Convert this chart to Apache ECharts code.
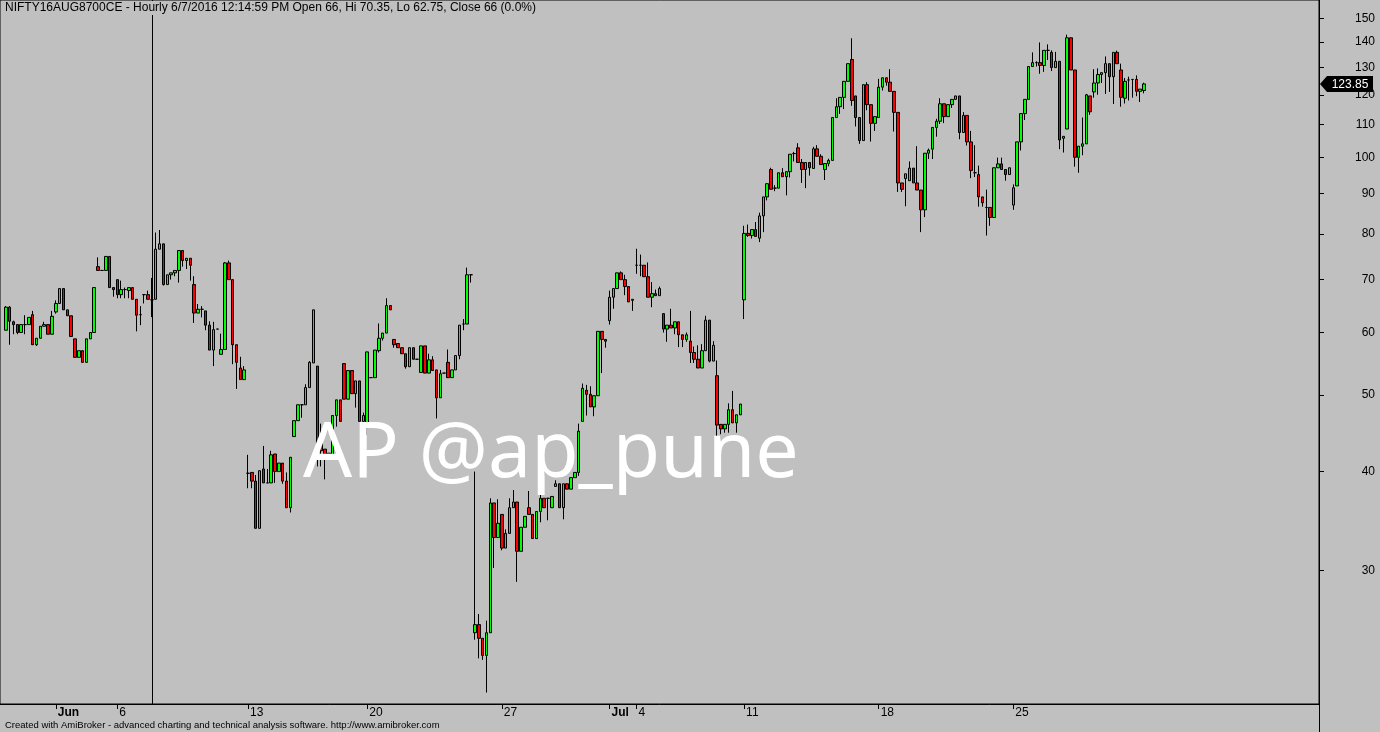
<!DOCTYPE html>
<html><head><meta charset="utf-8">
<script src="https://cdn.jsdelivr.net/npm/echarts@6/dist/echarts.min.js"></script>
<style>html,body{margin:0;padding:0;background:#c0c0c0;overflow:hidden}#chart{width:1380px;height:732px}</style>
</head><body><div id="chart"></div>
<script>
// ---- data ----
const sessions = [
 ['2016-05-30',6],['2016-05-31',7],['2016-06-01',6],['2016-06-02',5],['2016-06-03',5],
 ['2016-06-06',7],['2016-06-07',7],['2016-06-08',7],['2016-06-09',7],['2016-06-10',6],
 ['2016-06-13',7],['2016-06-14',6],['2016-06-15',6],['2016-06-16',6],['2016-06-17',6],
 ['2016-06-20',7],['2016-06-21',7],['2016-06-22',7],['2016-06-23',7],['2016-06-24',7],
 ['2016-06-27',7],['2016-06-28',7],['2016-06-29',7],['2016-06-30',7],['2016-07-01',7],
 ['2016-07-04',7],['2016-07-05',7],['2016-07-07',7],['2016-07-08',7],
 ['2016-07-11',7],['2016-07-12',7],['2016-07-13',7],['2016-07-14',7],['2016-07-15',7],
 ['2016-07-18',7],['2016-07-19',7],['2016-07-20',7],['2016-07-21',7],['2016-07-22',7],
 ['2016-07-25',7],['2016-07-26',7],['2016-07-27',7],['2016-07-28',7],['2016-07-29',7]
];
const barTimes = ['10:14:59','11:14:59','12:14:59','13:14:59','14:14:59','15:14:59','15:29:59'];

const opens = [
 60.4,64.6,61.9,61.4,60.0,61.4,61.4,63.2,57.9,59.0,
 61.1,61.4,59.7,63.7,65.3,68.2,64.1,63.0,58.9,55.8,
 56.9,55.0,58.9,60.0,72.7,71.9,71.9,74.9,68.4,70.0,
 67.0,68.0,67.8,68.4,66.1,63.2,67.0,67.0,66,66.1,
 76.5,77.7,69.0,71.0,71.4,71.9,76.2,74.0,74.5,69.0,
 63.5,64.2,63.9,61.3,57.0,60.6,56.3,57.1,73.5,70.0,
 57.9,54.1,52.3,39.8,39.9,38.9,33.9,40.3,38.7,38.7,
 42.1,40.0,41.0,38.9,36.0,44.3,46.4,48.6,48.6,51.1,
 54.9,54.4,43.5,42.7,42.1,42.0,47.1,49.3,54.8,49.4,
 53.7,50.2,52.1,46.3,45.8,52.6,52.6,56.9,59.0,59.9,
 64.9,58.8,58.1,57.4,56.4,54.3,57.4,55.5,53.4,57.7,
 53.3,55.4,53.8,49.6,53.3,55.0,52.6,53.8,56.1,61.5,
 61.5,71.0,25.0,25.6,24.6,23.4,25.0,36.5,33.0,35.3,
 32.0,33.4,36.0,36.6,31.7,34.0,36.0,35.3,32.9,35.6,
 37.0,37.0,36.0,38.3,38.6,36.0,38.6,38.0,39.3,39.9,
 46.3,50.7,50.1,48.3,49.9,60.2,58.8,62.1,66.5,68.2,
 71.4,70.0,68.6,65.9,73.0,73.0,73.0,70.6,66.5,67.2,
 66.8,63.4,60.6,61.3,60.8,61.9,59.6,58.8,58.5,56.6,
 55.5,54.1,56.9,62.2,55.2,52.9,45.9,45.3,45.9,47.9,
 46.1,47.2,66.0,80.1,79.6,81.0,79.0,84.3,89.1,96.5,
 91.4,91.4,95.6,94.5,95.9,101.1,102.8,98.5,96.5,98.5,
 96.8,102.5,100.3,96.5,98.2,99.1,112.3,115.9,119.1,124.8,
 133.0,119.6,112.3,105.0,123.6,116.6,110.4,112.3,122.7,126.1,
 124.5,121.2,114.0,92.8,94.0,93.4,96.9,92.8,90.9,85.8,
 101.2,102.4,109.1,111.1,116.9,112.6,116.6,118.4,119.6,107.5,
 113.0,104.6,95.6,95.1,89.1,86.4,86.4,83.9,97.0,98.1,
 96.5,95.1,87.0,92.0,104.6,113.6,118.4,130.3,131.8,131.8,
 130.7,136.6,135.8,129.9,132.3,105.7,108.6,141.7,129.0,100.0,
 103.3,104.0,119.6,121.0,124.2,127.3,128.0,131.4,126.5,135.8,
 129.0,118.8,125.3,125.5,125.5,121.2,121.5
];
const highs = [
 64.8,64.8,62.1,61.4,61.4,63.1,62.7,63.9,59.0,61.1,
 61.9,61.4,63.9,65.9,68.2,68.2,64.1,63.0,58.9,56.9,
 56.9,58.9,60.0,68.4,74.7,71.9,74.9,74.9,68.4,70.0,
 69.8,68.4,68.4,68.4,66.1,64.8,67.0,67.8,70.35,80.3,
 80.9,77.7,71.0,71.4,71.9,76.2,76.2,74.5,74.5,70.7,
 65.2,64.8,63.9,62.0,61.9,60.6,59.8,73.7,74.0,70.0,
 57.9,55.9,54.4,42.0,39.9,39.6,40.1,43.1,40.3,42.5,
 42.1,41.0,41.0,39.9,41.7,46.4,48.6,48.6,51.6,55.2,
 64.1,54.4,46.0,42.7,42.2,47.1,49.3,49.3,54.8,53.7,
 53.7,52.1,52.1,47.5,56.7,52.6,57.0,61.6,59.9,66.3,
 64.9,58.8,58.1,57.4,56.4,57.4,57.4,55.5,57.7,57.7,
 56.4,56.0,53.8,53.8,53.3,57.1,53.8,56.1,61.3,62.4,
 72.5,71.0,40.0,26.4,24.6,25.9,37.0,36.5,36.9,35.3,
 33.8,37.0,37.9,36.6,34.0,35.1,37.8,35.3,35.6,37.4,
 37.0,37.0,37.2,39.0,38.6,38.6,38.6,39.3,39.9,46.0,
 51.7,51.5,51.3,49.9,60.2,60.2,58.8,67.8,68.2,71.4,
 71.7,71.0,68.6,66.1,76.6,75.3,73.0,73.6,69.5,68.0,
 68.6,63.4,61.3,64.3,61.9,61.9,59.6,60.0,63.9,57.6,
 57.8,58.0,63.0,62.2,58.5,55.3,45.9,45.9,48.8,50.6,
 47.2,48.7,81.9,82.2,81.0,82.8,85.1,89.1,92.6,97.0,
 92.2,95.6,96.9,95.9,100.9,101.6,104.2,99.5,98.5,98.5,
 103.1,103.6,100.9,98.2,99.6,112.3,118.8,119.1,124.8,131.4,
 141.5,119.6,112.3,123.6,124.5,116.6,112.6,125.7,126.1,126.1,
 129.3,121.2,114.0,92.8,95.3,98.8,96.9,103.3,90.9,101.2,
 102.6,109.1,111.9,118.8,116.9,116.6,118.4,119.6,119.6,114.1,
 113.0,108.0,103.6,97.6,89.1,91.0,86.4,97.0,99.9,99.9,
 96.5,97.0,92.4,104.6,113.6,118.4,130.3,135.8,132.3,139.8,
 136.6,139.0,136.6,136.0,132.3,106.3,143.0,141.7,129.0,103.3,
 112.3,120.3,119.6,129.3,129.6,128.0,134.2,131.4,135.8,136.5,
 131.4,126.0,126.5,125.5,127.0,122.0,124.3
];
const lows = [
 60.4,57.9,59.7,59.7,60.0,59.7,61.4,57.9,57.7,59.0,
 61.1,59.7,59.7,63.4,65.3,64.1,63.0,59.3,55.8,55.8,
 55.0,55.0,58.9,60.0,71.9,71.9,71.9,68.4,66.6,66.3,
 66.3,66.3,66.3,66.1,60.2,61.3,65.3,66.1,62.75,66.1,
 76.5,68.8,69.0,70.0,70.7,69.4,72.7,72.2,69.8,61.7,
 63.5,62.7,60.4,57.0,54.4,60.6,56.3,57.1,70.0,54.7,
 50.9,52.3,52.3,38.1,38.1,33.9,33.9,38.7,38.7,38.7,
 38.7,40.0,38.6,36.0,35.5,44.3,46.4,46.8,48.6,51.1,
 54.9,40.6,40.6,39.1,42.0,42.0,45.6,46.3,49.4,49.4,
 50.2,48.2,46.3,46.3,44.5,52.6,52.6,56.6,58.6,59.9,
 64.1,57.4,57.4,56.4,54.0,54.3,55.5,55.5,53.4,53.3,
 53.3,53.7,46.7,49.6,53.3,52.6,52.6,53.8,55.5,60.4,
 61.5,69.4,24.5,23.2,23.1,21.0,25.0,30.2,33.0,31.8,
 32.0,33.4,36.0,29.0,31.7,34.0,35.3,32.9,32.9,34.5,
 36.0,34.7,36.0,38.3,36.0,34.8,38.0,38.0,39.3,39.5,
 46.3,47.1,48.3,47.0,49.9,53.3,57.4,61.4,64.3,68.2,
 70.0,66.9,65.6,63.9,71.2,70.7,70.6,66.5,64.6,66.8,
 66.8,60.0,58.4,60.8,59.7,57.5,57.5,58.4,54.9,54.9,
 54.1,54.1,56.9,55.0,55.2,44.2,44.6,44.8,44.8,46.1,
 44.8,47.2,62.4,79.3,78.9,79.4,78.1,80.4,88.2,91.1,
 90.6,91.4,94.5,89.5,94.3,98.8,98.5,92.8,91.4,94.8,
 96.8,100.3,97.9,93.6,97.4,99.1,112.3,113.5,115.1,124.8,
 116.2,109.4,104.0,105.0,114.7,104.7,108.0,112.3,121.5,123.2,
 121.2,107.8,90.4,90.4,86.7,93.4,92.8,90.9,80.4,84.0,
 99.5,99.5,106.2,110.2,110.5,112.6,115.5,118.4,105.4,107.5,
 103.5,94.1,94.4,86.6,86.6,79.6,81.9,83.9,97.0,96.5,
 93.4,95.1,85.8,92.0,102.0,111.5,118.4,130.3,130.3,127.6,
 128.3,132.8,128.6,129.9,102.4,101.4,108.6,129.0,97.3,95.6,
 100.6,104.0,113.2,119.0,120.0,124.2,120.3,121.0,116.8,131.4,
 115.9,117.0,118.0,119.0,119.5,117.5,120.5
];
const closes = [
 64.6,62.0,61.4,60.0,61.4,61.4,62.7,57.9,59.0,61.1,
 61.4,59.7,62.9,65.3,68.2,64.1,63.0,59.3,55.8,56.9,
 55.0,58.9,60.0,68.4,71.9,71.9,74.9,68.4,68.0,67.0,
 68.0,68.0,68.4,66.1,63.1,63.2,67.0,66.1,66,76.5,
 77.7,69.0,71.0,71.4,71.9,76.2,74.0,74.5,73.0,63.5,
 64.2,64.2,61.3,57.0,60.5,60.6,57.1,73.5,70.0,57.9,
 55.0,52.3,53.8,39.8,38.9,33.9,40.1,38.7,38.7,42.0,
 40.0,41.0,38.9,36.0,41.7,46.4,48.6,48.6,51.1,55.0,
 64.1,43.0,42.5,42.1,42.2,47.1,49.3,46.3,49.4,53.7,
 50.2,52.1,46.3,47.1,56.7,52.6,57.0,59.0,59.9,64.9,
 64.1,57.9,57.4,56.4,54.3,57.4,55.5,55.5,57.7,53.3,
 55.4,53.7,49.6,53.2,53.3,52.6,53.8,56.1,61.3,61.5,
 71.0,71.0,25.6,24.6,23.4,25.0,36.5,33.0,34.4,32.0,
 33.4,36.0,36.6,31.7,34.0,35.1,35.3,32.9,35.6,37.0,
 36.0,37.0,37.2,38.6,36.0,38.6,38.0,39.3,39.9,45.0,
 51.0,50.1,48.3,49.9,60.2,58.8,58.5,66.5,68.2,71.4,
 70.0,68.6,65.6,66.1,73.0,73.0,70.6,66.5,67.2,66.8,
 68.2,60.6,61.3,60.8,61.9,59.6,58.8,59.6,56.6,55.5,
 54.1,56.9,62.2,55.2,57.8,45.8,45.3,45.9,47.9,46.1,
 47.2,48.7,80.1,79.6,81.0,79.4,84.3,89.1,92.6,91.1,
 91.4,95.6,94.5,95.9,100.9,101.1,98.5,96.5,98.5,97.0,
 102.5,100.3,97.9,98.2,99.1,112.3,115.9,119.1,124.8,131.4,
 118.0,112.3,105.0,123.6,116.6,110.4,112.6,122.7,126.1,124.5,
 121.2,114.0,92.8,91.1,95.3,96.9,92.8,90.9,85.8,101.2,
 102.1,109.1,111.1,116.9,112.6,116.6,118.4,119.6,107.5,113.0,
 104.6,96.2,95.6,89.1,87.6,86.4,83.9,97.0,98.1,96.5,
 95.1,97.0,91.5,104.6,113.6,118.4,130.3,131.8,131.8,130.7,
 136.6,136.6,129.9,132.3,105.2,106.3,141.7,129.0,100.0,103.3,
 104.0,120.0,114.2,124.2,127.3,128.0,131.4,126.5,135.8,131.4,
 119.1,124.8,125.3,125.5,121.2,122.0,123.85
];
const tickDays  = ['2016-06-01','2016-06-06','2016-06-13','2016-06-20','2016-06-27','2016-07-01','2016-07-04','2016-07-11','2016-07-18','2016-07-25'];
const tickTexts = ['Jun','6','13','20','27','Jul','4','11','18','25'];
const monthLabels = ['Jun','Jul'];
const yTickValues = [30,40,50,60,70,80,90,100,110,120,130,140,150];
const yMin = 20.31, yMax = 158.2;
const cursorBar = '2016-06-07 12:14:59';
const titleText = 'NIFTY16AUG8700CE - Hourly 6/7/2016 12:14:59 PM Open 66, Hi 70.35, Lo 62.75, Close 66 (0.0%)';
const creditText = 'Created with AmiBroker - advanced charting and technical analysis software. http://www.amibroker.com';
const watermarkText = 'AP @ap_pune';
const LEAD_PAD = 1, TRAIL_PAD = 45;

// ---- build categories ----
const barNames = [];
const firstBarLabel = {};
sessions.forEach(([d, n]) => {
  for (let k = 0; k < n; k++) {
    const name = d + ' ' + barTimes[k];
    if (k === 0) { const ti = tickDays.indexOf(d); if (ti >= 0) firstBarLabel[name] = tickTexts[ti]; }
    barNames.push(name);
  }
});
const categories = [];
for (let i = 0; i < LEAD_PAD; i++) categories.push('lead' + i);
barNames.forEach(n => categories.push(n));
for (let i = 0; i < TRAIL_PAD; i++) categories.push('trail' + i);

const lg = v => Math.log10(v);
const candleData = opens.map((o, i) => [i + LEAD_PAD, lg(o), lg(closes[i]), lg(lows[i]), lg(highs[i])]);

const FONT = '"Liberation Sans", Arial, sans-serif';
const GRID = {left: 0, top: 0, right: 61, bottom: 28};
const showTick = (idx, name) => firstBarLabel[name] !== undefined;

const chart = echarts.init(document.getElementById('chart'), null, {renderer: 'canvas'});
chart.setOption({
  animation: false,
  backgroundColor: '#c0c0c0',
  title: {
    text: titleText, left: 3, top: 1, padding: [1, 2, 1, 2],
    backgroundColor: '#c0c0c0',
    textStyle: {fontFamily: FONT, fontSize: 12, fontWeight: 'normal', color: '#000'}
  },
  grid: Object.assign({show: true, borderColor: '#000', borderWidth: 1, backgroundColor: '#c0c0c0', containLabel: false}, GRID),
  xAxis: {
    type: 'category', data: categories, boundaryGap: true,
    axisLine: {show: true, lineStyle: {color: '#000', width: 1}},
    axisTick: {show: true, alignWithLabel: true, interval: showTick, length: 5, lineStyle: {color: '#000'}},
    axisLabel: {
      interval: showTick, align: 'left', margin: 3, padding: [0, 0, 0, 2],
      fontFamily: FONT, fontSize: 12, color: '#000',
      formatter: (name) => { const t = firstBarLabel[name]; if (t === undefined) return ''; return monthLabels.includes(t) ? '{m|' + t + '}' : t; },
      rich: {m: {fontFamily: FONT, fontSize: 12, fontWeight: 'bold', color: '#000'}}
    },
    splitLine: {show: false}
  },
  yAxis: {
    type: 'value', position: 'right', min: lg(yMin), max: lg(yMax),
    axisLine: {show: true, lineStyle: {color: '#000', width: 1}},
    axisTick: {show: true, length: 5, customValues: yTickValues.map(lg), lineStyle: {color: '#000'}},
    axisLabel: {
      customValues: yTickValues.map(lg), align: 'right', margin: 56,
      fontFamily: FONT, fontSize: 12, color: '#000',
      formatter: v => String(Math.round(Math.pow(10, v)))
    },
    splitLine: {show: false}
  },
  series: [{
    type: 'candlestick', data: candleData, encode: {x: 0, y: [1, 2, 3, 4]},
    barWidth: 3,
    itemStyle: {color: '#00ff00', color0: '#ff0000', borderColor: '#000', borderColor0: '#000', borderWidth: 1},
    markLine: {
      silent: true, symbol: 'none', animation: false,
      label: {show: false},
      lineStyle: {color: '#000', width: 1, type: 'solid'},
      data: [{xAxis: cursorBar}]
    }
  }]
});

// price tag and decorations placed through the chart's own scale
const lastClose = closes[closes.length - 1];
const py = chart.convertToPixel({yAxisIndex: 0}, lg(lastClose));
const axX = chart.getWidth() - GRID.right;
const axBottom = chart.getHeight() - GRID.bottom;
chart.setOption({
  graphic: [
    {id: 'wm', type: 'text', z: 100, style: {text: watermarkText, x: 303, y: 455, fill: '#ffffff', font: '77px "Noto Sans", sans-serif', verticalAlign: 'middle', align: 'left'}},
    {id: 'credit', type: 'text', z: 100, style: {text: creditText, x: 5, y: 725, fill: '#000', font: '9.5px ' + FONT, verticalAlign: 'middle'}},
    {id: 'axext', type: 'line', z: 100, shape: {x1: axX + 0.5, y1: axBottom, x2: axX + 0.5, y2: chart.getHeight()}, style: {stroke: '#000', lineWidth: 1}},
    {id: 'tag', type: 'polygon', z: 110, shape: {points: [[axX + 1, py], [axX + 8, py - 8], [axX + 54, py - 8], [axX + 54, py + 8], [axX + 8, py + 8]]}, style: {fill: '#000'}},
    {id: 'tagtxt', type: 'text', z: 111, style: {text: lastClose.toFixed(2), x: axX + 31, y: py + 0.5, fill: '#fff', font: '12px ' + FONT, align: 'center', verticalAlign: 'middle'}}
  ]
});
</script>
</body></html>
